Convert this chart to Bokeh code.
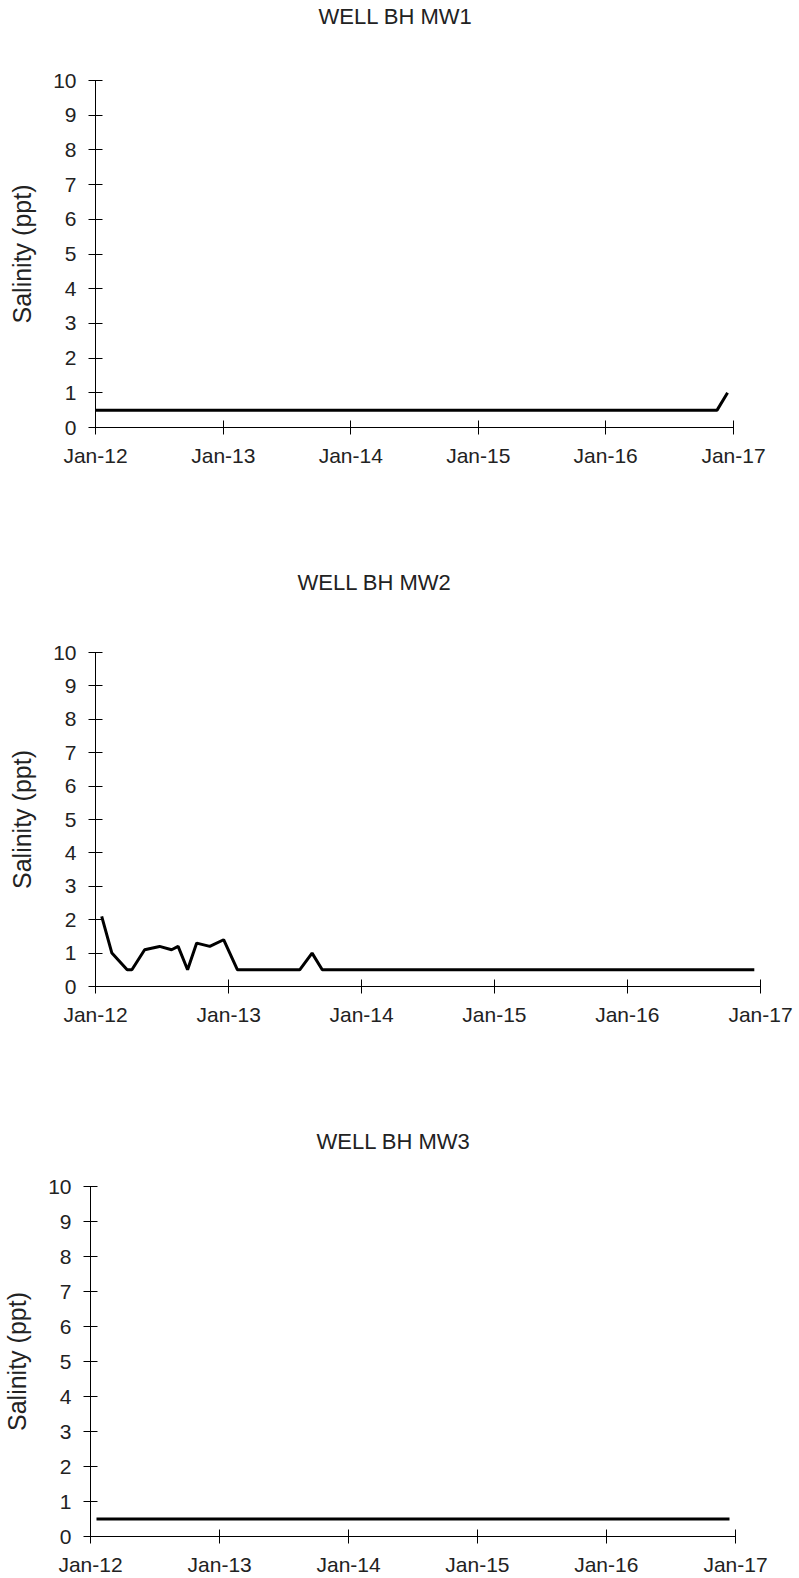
import datetime as dt
from bokeh.plotting import figure
from bokeh.models import Range1d, FixedTicker, DatetimeTickFormatter
from bokeh.core.properties import value
from bokeh.embed import file_html
from bokeh.resources import INLINE

# ---- data ----
year_ticks = [2012, 2013, 2014, 2015, 2016, 2017]
y_ticks = [0, 1, 2, 3, 4, 5, 6, 7, 8, 9, 10]

titles = ["WELL BH MW1", "WELL BH MW2", "WELL BH MW3"]

mw1_dates = ["2012-01-01", "2016-11-15", "2016-12-15"]
mw1_vals = [0.5, 0.5, 1.0]

mw2_dates = ["2012-01-18", "2012-02-15", "2012-03-28", "2012-04-10", "2012-05-15",
             "2012-06-25", "2012-07-28", "2012-08-15", "2012-09-10", "2012-10-05",
             "2012-11-10", "2012-12-18", "2013-01-25", "2013-07-15", "2013-08-18",
             "2013-09-15", "2016-12-15"]
mw2_vals = [2.1, 1.0, 0.5, 0.5, 1.1,
            1.2, 1.1, 1.2, 0.5, 1.3,
            1.2, 1.4, 0.5, 0.5, 1.0,
            0.5, 0.5]

mw3_dates = ["2012-01-18", "2016-12-15"]
mw3_vals = [0.5, 0.5]

series = [(mw1_dates, mw1_vals), (mw2_dates, mw2_vals), (mw3_dates, mw3_vals)]

# ---- layout (pixels) ----
# th: height of title strip, tx/ty: title text left edge / centre inside strip
geom = [
    dict(th=40, tx=318, ty=16, h=526, left=95, right=66, top=40, bottom=139),
    dict(th=40, tx=297, ty=16, h=519, left=95, right=39, top=46, bottom=139),
    dict(th=35, tx=316, ty=16, h=418, left=90, right=64, top=26, bottom=42),
]

FONT = "Liberation Sans"
TXT = "#222222"
W = 799

def to_dt(s):
    return dt.datetime.strptime(s, "%Y-%m-%d")

epoch = dt.datetime(1970, 1, 1)
tick_ms = [(dt.datetime(y, 1, 1) - epoch).total_seconds() * 1000 for y in year_ticks]

fmt = "%b-%y"
items = []
for (dates, vals), title, g in zip(series, titles, geom):
    # title strip
    t = figure(width=W, height=g["th"], output_backend="svg", toolbar_location=None,
               x_range=Range1d(0, W), y_range=Range1d(g["th"], 0),
               x_axis_location=None, y_axis_location=None,
               min_border_left=0, min_border_right=0, min_border_top=0, min_border_bottom=0)
    t.title.visible = False
    t.grid.visible = False
    t.outline_line_color = None
    t.text(x=[g["tx"]], y=[g["ty"]], text=[title], text_align="left", text_baseline="middle",
           text_font=value(FONT), text_font_size=value("22px"), text_color=TXT)
    items.append(t)

    p = figure(width=W, height=g["h"], x_axis_type="datetime",
               output_backend="svg", toolbar_location=None,
               x_range=Range1d(dt.datetime(year_ticks[0], 1, 1), dt.datetime(year_ticks[-1], 1, 1)),
               y_range=Range1d(y_ticks[0], y_ticks[-1]),
               min_border_left=g["left"], min_border_right=g["right"],
               min_border_top=g["top"], min_border_bottom=g["bottom"])
    p.title.visible = False
    p.outline_line_color = None
    p.xgrid.visible = False
    p.ygrid.visible = False
    p.background_fill_color = "white"
    p.border_fill_color = "white"

    p.line([to_dt(d) for d in dates], vals, line_color="black", line_width=3)

    xa = p.xaxis[0]
    xa.ticker = FixedTicker(ticks=tick_ms)
    xa.formatter = DatetimeTickFormatter(
        milliseconds=fmt, seconds=fmt, minsec=fmt, minutes=fmt, hourmin=fmt,
        hours=fmt, days=fmt, months=fmt, years=fmt)
    ya = p.yaxis[0]
    ya.ticker = FixedTicker(ticks=y_ticks)
    ya.axis_label = "Salinity (ppt)"
    ya.axis_label_text_font = FONT
    ya.axis_label_text_font_size = "25px"
    ya.axis_label_text_font_style = "normal"
    ya.axis_label_text_color = TXT
    ya.axis_label_standoff = 14
    for ax in (xa, ya):
        ax.axis_line_color = "black"
        ax.axis_line_width = 1
        ax.major_tick_line_color = "black"
        ax.major_tick_line_width = 1
        ax.major_tick_in = 7
        ax.major_tick_out = 7
        ax.minor_tick_line_color = None
        ax.major_label_text_font = FONT
        ax.major_label_text_font_size = "21px"
        ax.major_label_text_color = TXT
    xa.major_label_standoff = 9
    ya.major_label_standoff = 12
    items.append(p)

# separate roots so that Bokeh does not align the frames of the three charts
open("out.html", "w").write(file_html(items, INLINE))
